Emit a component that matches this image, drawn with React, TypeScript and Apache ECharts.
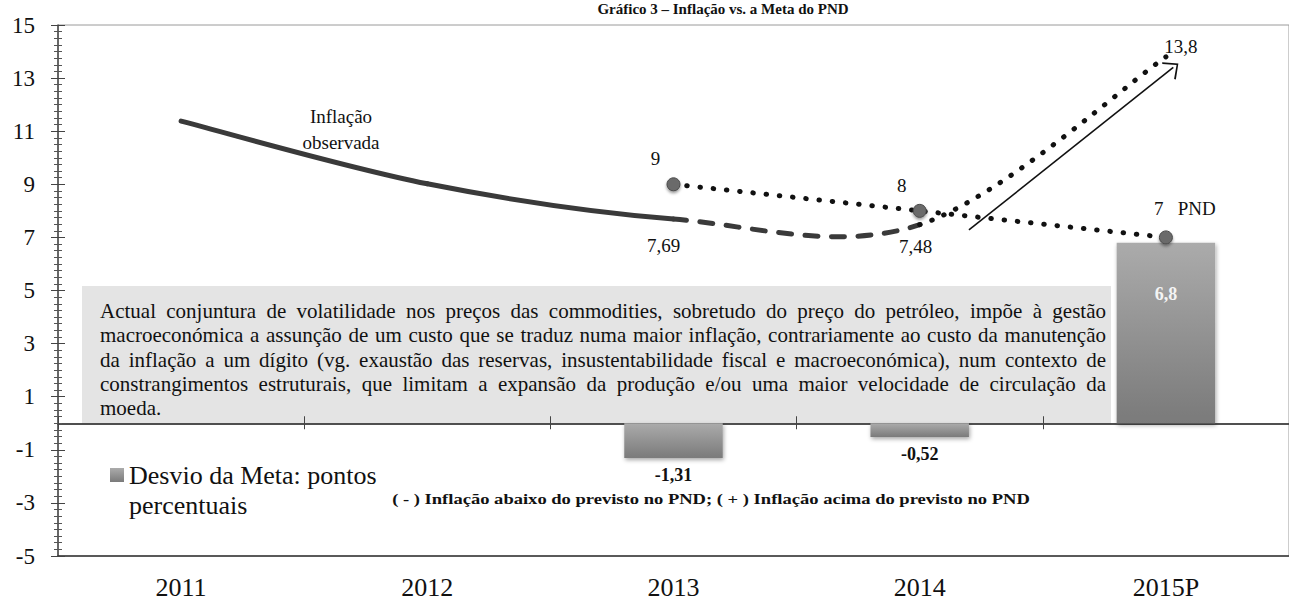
import { useEffect, useRef } from "react";
import * as echarts from "echarts";

// ---------- data ----------
const years = ["2011", "2012", "2013", "2014", "2015P"];
const inflation = [11.38, 9.02, 7.69, 7.48, 13.8]; // Inflação observada
const pndTarget = [null, null, 9, 8, 7]; // Meta do PND
const deviation = [null, null, -1.31, -0.52, 6.8]; // Desvio da Meta (p.p.)
const inflationLabelIdx = [2, 3, 4];
const arrowFrom = [3.2, 7.28];
const arrowTo = [4.03, 13.4];

const titleText = "Gráfico 3 – Inflação vs. a Meta do PND";
const noteLines = [
  "Actual conjuntura de volatilidade nos preços das commodities, sobretudo do preço do petróleo, impõe à gestão",
  "macroeconómica a assunção de um custo que se traduz numa maior inflação, contrariamente ao custo da manutenção",
  "da inflação a um dígito (vg. exaustão das reservas, insustentabilidade fiscal e macroeconómica), num contexto de",
  "constrangimentos estruturais, que limitam a expansão da produção e/ou uma maior velocidade de circulação da",
  "moeda.",
];
const footnote =
  "( - ) Inflação abaixo do previsto no PND; ( + ) Inflação acima do previsto no PND";
const barName = "Desvio da Meta: pontos percentuais";

// ---------- layout / style ----------
const FONT = "Liberation Serif, serif";
const GL = 58;
const GT = 25;
const GW = 1243;
const GH = 536;

// segment styles of the inflation curve (segment i goes from point i to i+1)
const SEG_STYLE = ["solid", "solid", "dashed", "dotted"];

const fmt = (v: number) => String(v).replace(".", ",");

export default function App() {
  const ref = useRef<HTMLDivElement>(null);

  useEffect(() => {
    document.body.style.margin = "0";
    if (!ref.current) return;
    const chart = echarts.init(ref.current, null, { renderer: "svg" });

    // ---- justified note text ----
    const NOTE_FS = 21;
    const NOTE_X = 100;
    const NOTE_W = 1006;
    const NOTE_Y0 = 311;
    const NOTE_LH = 24.3;
    const canvas = document.createElement("canvas");
    const ctx = canvas.getContext("2d")!;
    ctx.font = `${NOTE_FS}px "Liberation Serif"`;
    const noteEls: any[] = [];
    const noteStyle = { fontSize: NOTE_FS, fontFamily: FONT, fill: "#111", align: "left", verticalAlign: "middle" };
    noteLines.forEach((line, li) => {
      const y = NOTE_Y0 + li * NOTE_LH;
      const words = line.split(" ");
      if (li === noteLines.length - 1) {
        noteEls.push({ type: "text", x: NOTE_X, y, z: 5, style: { ...noteStyle, text: line } });
        return;
      }
      const widths = words.map((w) => ctx.measureText(w).width);
      const total = widths.reduce((a, b) => a + b, 0);
      const gap = (NOTE_W - total) / (words.length - 1);
      let x = NOTE_X;
      words.forEach((w, wi) => {
        noteEls.push({ type: "text", x, y, z: 5, style: { ...noteStyle, text: w } });
        x += widths[wi] + gap;
      });
    });

    // footnote scaled to width
    ctx.font = `bold 15px "Liberation Serif"`;
    const fnW = ctx.measureText(footnote).width;
    const fnScale = 638 / fnW;

    const barGradient = new echarts.graphic.LinearGradient(0, 0, 0, 1, [
      { offset: 0, color: "#ababab" },
      { offset: 1, color: "#7a7a7a" },
    ]);

    const yBase = {
      type: "value",
      gridIndex: 0,
      min: -5,
      max: 15,
      interval: 2,
      position: "left",
      splitLine: { show: false },
    };

    const n = inflation.length;
    const renderInflation = (params: any, api: any) => {
      const i = params.dataIndex;
      if (i >= n - 1) return null;
      const P = (k: number) => {
        const kk = Math.max(0, Math.min(n - 1, k));
        return api.coord([kk, inflation[kk]]);
      };
      const p0 = P(i - 1);
      const p1 = P(i);
      const p2 = P(i + 1);
      const p3 = P(i + 2);
      const t = 1 / 6;
      const seg = SEG_STYLE[i];
      const style: any = { fill: "none", lineWidth: 5, lineCap: "round", stroke: "#3a3a3a" };
      if (seg === "dashed") style.lineDash = [13, 13.5];
      if (seg === "dotted") {
        style.lineDash = [0.5, 12.5];
        style.stroke = "#111";
      }
      return {
        type: "bezierCurve",
        shape: {
          x1: p1[0],
          y1: p1[1],
          x2: p2[0],
          y2: p2[1],
          cpx1: p1[0] + (p2[0] - p0[0]) * t,
          cpy1: p1[1] + (p2[1] - p0[1]) * t,
          cpx2: p2[0] - (p3[0] - p1[0]) * t,
          cpy2: p2[1] - (p3[1] - p1[1]) * t,
        },
        style,
      };
    };

    const option: any = {
      animation: false,
      backgroundColor: "#fff",
      textStyle: { fontFamily: FONT },
      legend: {
        data: [barName],
        left: 110,
        top: 462,
        padding: 0,
        icon: "rect",
        itemWidth: 14,
        itemHeight: 14,
        formatter: () => "Desvio da Meta: pontos",
        textStyle: { fontFamily: FONT, fontSize: 26, color: "#111" },
        selectedMode: false,
      },
      grid: [{ left: GL, top: GT, width: GW, height: GH, show: true, borderColor: "#9a9a9a", borderWidth: 1 }],
      xAxis: [
        {
          type: "category",
          gridIndex: 0,
          data: years,
          position: "bottom",
          axisLine: { show: true, onZero: true, lineStyle: { color: "#444", width: 1.5 } },
          axisTick: { show: true, length: 6, lineStyle: { color: "#444" } },
          axisLabel: { show: false },
          splitLine: { show: false },
        },
        {
          type: "category",
          gridIndex: 0,
          data: years,
          position: "bottom",
          axisLine: { show: true, onZero: true, lineStyle: { color: "#444", width: 1.5 } },
          axisTick: { show: true, inside: true, length: 7, lineStyle: { color: "#444" } },
          axisLabel: { show: false },
          splitLine: { show: false },
        },
        {
          type: "category",
          gridIndex: 0,
          data: years,
          position: "bottom",
          axisLine: { show: true, onZero: false, lineStyle: { color: "#333", width: 1.5 } },
          axisTick: { show: false },
          axisLabel: { show: true, margin: 18, fontSize: 26, fontFamily: FONT, color: "#111" },
          splitLine: { show: false },
        },
        { type: "value", gridIndex: 0, min: -0.5, max: years.length - 0.5, show: false },
      ],
      yAxis: [
        {
          ...yBase,
          axisLine: { show: true, onZero: false, lineStyle: { color: "#444", width: 1.5 } },
          axisTick: { show: true, length: 7, lineStyle: { color: "#444" } },
          minorTick: { show: true, splitNumber: 8, length: 4, lineStyle: { color: "#555" } },
          axisLabel: { show: true, fontSize: 23, fontFamily: FONT, color: "#111", margin: 23 },
        },
        {
          ...yBase,
          axisLine: { show: false, onZero: false },
          axisTick: { show: true, inside: true, length: 7, lineStyle: { color: "#444" } },
          minorTick: { show: true, splitNumber: 8, length: 4, lineStyle: { color: "#555" } },
          axisLabel: { show: false },
        },
      ],
      series: [
        {
          name: barName,
          type: "bar",
          xAxisIndex: 0,
          yAxisIndex: 0,
          barWidth: "40%",
          z: 1,
          itemStyle: {
            color: barGradient,
            shadowBlur: 4,
            shadowColor: "rgba(0,0,0,0.35)",
            shadowOffsetY: 2,
            shadowOffsetX: 1,
          },
          label: { show: true, fontFamily: FONT, fontSize: 18, fontWeight: "bold", formatter: (p: any) => fmt(p.value) },
          data: deviation.map((v) =>
            v == null
              ? null
              : v < 0
              ? { value: v, label: { position: "bottom", distance: 8, color: "#111" } }
              : { value: v, label: { position: "insideTop", distance: 42, color: "#f4f4f4" } }
          ),
        },
        // Inflação observada: smoothed curve (solid / dashed / dotted segments)
        {
          name: "Inflação observada",
          type: "custom",
          coordinateSystem: "cartesian2d",
          xAxisIndex: 0,
          yAxisIndex: 0,
          z: 3,
          silent: true,
          data: inflation.map((v, i) => [i, v]),
          encode: { x: 0, y: 1 },
          renderItem: renderInflation,
        },
        // arrow
        {
          name: "Tendência",
          type: "line",
          xAxisIndex: 3,
          yAxisIndex: 0,
          silent: true,
          showSymbol: false,
          lineStyle: { opacity: 0, width: 0 },
          data: [arrowFrom, arrowTo],
          z: 3,
          markLine: {
            silent: true,
            animation: false,
            label: { show: false },
            lineStyle: { color: "#111", width: 1.6, type: "solid" },
            data: [
              [
                { coord: arrowFrom, symbol: "none" },
                {
                  coord: arrowTo,
                  symbol: "path://M0,92 L50,0 L100,92 L93,100 L50,18 L7,100 Z",
                  symbolSize: [22, 13],
                },
              ],
            ],
          },
        },
        // Meta do PND
        {
          name: "Meta do PND",
          type: "line",
          xAxisIndex: 0,
          yAxisIndex: 0,
          z: 4,
          data: pndTarget.map((v, i) =>
            v == null ? null : i === pndTarget.length - 1 ? { value: v, label: { offset: [19, 0], distance: 12 } } : v
          ),
          symbol: "circle",
          symbolSize: 13,
          itemStyle: {
            color: "#6b6b6b",
            borderColor: "#4a4a4a",
            borderWidth: 1,
            shadowBlur: 3,
            shadowColor: "rgba(0,0,0,0.4)",
            shadowOffsetY: 2,
          },
          lineStyle: { color: "#111", width: 5, type: [0.5, 12.8], cap: "round" },
          label: {
            show: true,
            position: "top",
            distance: 9,
            offset: [-18, 0],
            fontFamily: FONT,
            fontSize: 19,
            color: "#111",
            formatter: (p: any) => (p.dataIndex === pndTarget.length - 1 ? `${fmt(p.value)}   PND` : fmt(p.value)),
          },
        },
        // value labels on the inflation curve
        {
          name: "Inflação (rótulos)",
          type: "scatter",
          xAxisIndex: 0,
          yAxisIndex: 0,
          symbolSize: 1,
          silent: true,
          z: 5,
          itemStyle: { color: "rgba(255,255,255,0)" },
          label: {
            show: true,
            fontFamily: FONT,
            fontSize: 19,
            color: "#111",
            opacity: 1,
            formatter: (p: any) => fmt(p.value),
          },
          data: inflation.map((v, i) => {
            if (!inflationLabelIdx.includes(i)) return null;
            if (i === 2) return { value: v, label: { position: "bottom", distance: 16, offset: [-10, 0] } };
            if (i === 3) return { value: v, label: { position: "bottom", distance: 12, offset: [-4, 0] } };
            return { value: v, label: { position: "top", distance: 0, offset: [15, 0] } };
          }),
        },
      ],
      graphic: [
        {
          type: "text",
          x: 723,
          y: 1,
          z: 10,
          style: {
            text: titleText,
            fontSize: 15,
            fontWeight: "bold",
            fontFamily: FONT,
            fill: "#111",
            align: "center",
            verticalAlign: "top",
          },
        },
        {
          type: "rect",
          z: -1,
          shape: { x: 82, y: 286, width: 1029, height: 138 },
          style: { fill: "#e4e4e4" },
        },
        ...noteEls,
        {
          type: "text",
          x: 341,
          y: 129,
          z: 5,
          style: {
            text: "Inflação\nobservada",
            fontSize: 19,
            lineHeight: 26,
            fontFamily: FONT,
            fill: "#111",
            align: "center",
            verticalAlign: "middle",
          },
        },
        {
          type: "text",
          x: 129,
          y: 505,
          z: 5,
          style: { text: "percentuais", fontSize: 26, fontFamily: FONT, fill: "#111", align: "left", verticalAlign: "middle" },
        },
        {
          type: "text",
          x: 711,
          y: 499,
          z: 5,
          scaleX: fnScale,
          style: {
            text: footnote,
            fontSize: 15,
            fontWeight: "bold",
            fontFamily: FONT,
            fill: "#111",
            align: "center",
            verticalAlign: "middle",
          },
        },
      ],
    };

    chart.setOption(option);
    return () => chart.dispose();
  }, []);

  return <div ref={ref} style={{ width: 1289, height: 600 }} />;
}
